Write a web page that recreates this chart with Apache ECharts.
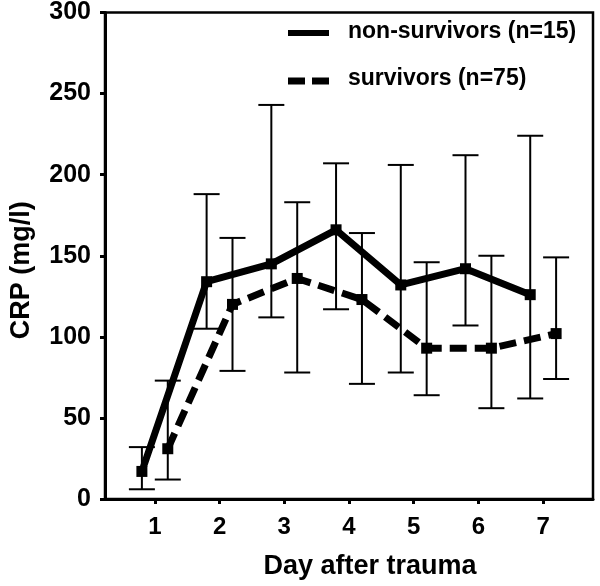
<!DOCTYPE html>
<html>
<head>
<meta charset="utf-8">
<script src="https://cdn.jsdelivr.net/npm/echarts@6/dist/echarts.min.js"></script>
<style>
html,body{margin:0;padding:0;background:#fff;}
#chart{width:600px;height:586px;}
</style>
</head>
<body>
<div id="chart"></div>
<script>
// ---- data ----
const days = [1, 2, 3, 4, 5, 6, 7];
const dayLabels = ['1', '2', '3', '4', '5', '6', '7'];
const yTicks = [0, 50, 100, 150, 200, 250, 300];

const nonSurvMean  = [17, 134, 145, 166, 132, 142, 126];
const nonSurvUpper = [32, 188, 243, 207, 206, 212, 224];
const nonSurvLower = [6, 105, 112, 117, 78, 107, 62];

const survMean  = [31, 120, 136, 123, 93, 93, 102];
const survUpper = [73, 161, 183, 164, 146, 150, 149];
const survLower = [12, 79, 78, 71, 64, 56, 74];

const nonSurvName = 'non-survivors (n=15)';
const survName = 'survivors (n=75)';
const xTitle = 'Day after trauma';
const yTitle = 'CRP (mg/l)';

// ---- layout / style ----
const FONT = '"Liberation Sans", Arial, Helvetica, sans-serif';
const OFFSET = 0.2;   // horizontal shift of each group around the day
const CAP = 13;       // half width of error-bar caps, px

const nsLine = days.map((d, i) => [d - OFFSET, nonSurvMean[i]]);
const sLine  = days.map((d, i) => [d + OFFSET, survMean[i]]);
const nsErr  = days.map((d, i) => [d - OFFSET, nonSurvLower[i], nonSurvUpper[i]]);
const sErr   = days.map((d, i) => [d + OFFSET, survLower[i], survUpper[i]]);

function errRender(params, api) {
  const x = api.value(0), lo = api.value(1), hi = api.value(2);
  const a = api.coord([x, lo]);
  const b = api.coord([x, hi]);
  const st = { stroke: '#000', lineWidth: 2 };
  return {
    type: 'group',
    children: [
      { type: 'line', shape: { x1: a[0], y1: a[1], x2: b[0], y2: b[1] }, style: st },
      { type: 'line', shape: { x1: a[0] - CAP, y1: a[1], x2: a[0] + CAP, y2: a[1] }, style: st },
      { type: 'line', shape: { x1: b[0] - CAP, y1: b[1], x2: b[0] + CAP, y2: b[1] }, style: st }
    ]
  };
}

const chart = echarts.init(document.getElementById('chart'), null, { renderer: 'canvas' });
chart.setOption({
  animation: false,
  backgroundColor: '#fff',
  grid: {
    left: 103, right: 7, top: 10, bottom: 87,
    show: true, borderColor: '#000', borderWidth: 2.5, backgroundColor: 'transparent'
  },
  xAxis: {
    type: 'value',
    min: 0.23, max: 7.77,
    name: xTitle,
    nameLocation: 'middle',
    nameGap: 54,
    nameTextStyle: { fontFamily: FONT, fontWeight: 'bold', fontSize: 27, color: '#000', padding: [0, 0, 0, 42] },
    axisLine: { show: true, lineStyle: { color: '#000', width: 3 } },
    axisTick: { show: true, inside: false, length: 5, lineStyle: { color: '#000', width: 3 }, customValues: days },
    axisLabel: {
      show: true, margin: 16, customValues: days,
      formatter: v => dayLabels[days.indexOf(Math.round(v))] || '',
      fontFamily: FONT, fontWeight: 'bold', fontSize: 24, color: '#000'
    },
    splitLine: { show: false }
  },
  yAxis: {
    type: 'value',
    min: 0, max: 300, interval: 50,
    name: yTitle,
    nameLocation: 'middle',
    nameGap: 70,
    nameRotate: 90,
    nameTextStyle: { fontFamily: FONT, fontWeight: 'bold', fontSize: 27, color: '#000', padding: [0, 29, 0, 0] },
    axisLine: { show: true, lineStyle: { color: '#000', width: 3 } },
    axisTick: { show: true, inside: false, length: 5, lineStyle: { color: '#000', width: 3 }, customValues: yTicks },
    axisLabel: {
      show: true, margin: 14, customValues: yTicks,
      fontFamily: FONT, fontWeight: 'bold', fontSize: 25, color: '#000'
    },
    splitLine: { show: false }
  },
  series: [
    {
      name: nonSurvName + ' SD', type: 'custom', renderItem: errRender,
      data: nsErr, encode: { x: 0, y: [1, 2] }, z: 1, silent: true
    },
    {
      name: survName + ' SD', type: 'custom', renderItem: errRender,
      data: sErr, encode: { x: 0, y: [1, 2] }, z: 1, silent: true
    },
    {
      name: nonSurvName, type: 'line', data: nsLine, z: 3,
      symbol: 'rect', symbolSize: 11,
      itemStyle: { color: '#000' },
      lineStyle: { color: '#000', width: 7, type: 'solid' }
    },
    {
      name: survName, type: 'line', data: sLine, z: 3,
      symbol: 'rect', symbolSize: 11,
      itemStyle: { color: '#000' },
      lineStyle: { color: '#000', width: 7, type: [17, 8] }
    }
  ],
  graphic: [
    { type: 'line', shape: { x1: 288, y1: 33, x2: 329, y2: 33 }, style: { stroke: '#000', lineWidth: 6 } },
    { type: 'text', x: 348, y: 32, style: { text: nonSurvName, fontFamily: FONT, fontWeight: 'bold', fontSize: 23, fill: '#000', verticalAlign: 'middle' } },
    { type: 'line', shape: { x1: 288, y1: 81, x2: 305, y2: 81 }, style: { stroke: '#000', lineWidth: 7 } },
    { type: 'line', shape: { x1: 312, y1: 81, x2: 329, y2: 81 }, style: { stroke: '#000', lineWidth: 7 } },
    { type: 'text', x: 348, y: 79, style: { text: survName, fontFamily: FONT, fontWeight: 'bold', fontSize: 23, fill: '#000', verticalAlign: 'middle' } }
  ]
});
</script>
</body>
</html>
